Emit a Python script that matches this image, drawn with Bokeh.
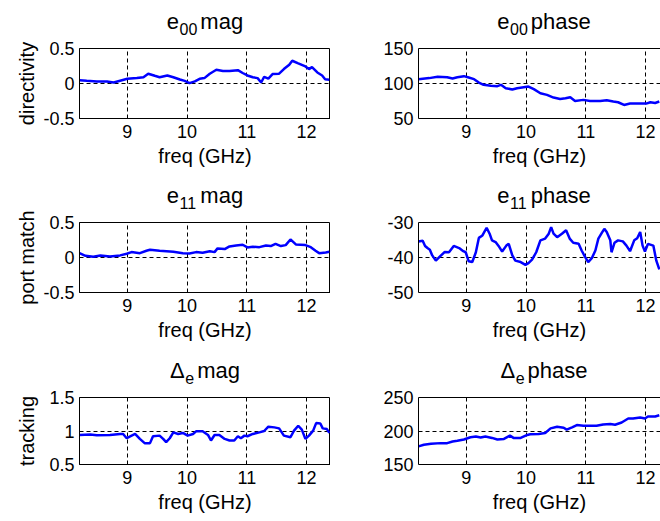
import math
from bokeh.plotting import figure
from bokeh.models import FixedTicker, Range1d, LinearAxis
from bokeh.layouts import column, row
from bokeh.embed import file_html
from bokeh.resources import INLINE
from bokeh.core.properties import value

FONT = "Liberation Sans"

# ---------------- data ----------------
freq_e00_mag = [8.20, 8.32, 8.49, 8.66, 8.77, 8.88, 9.00, 9.16, 9.27, 9.35, 9.46, 9.54, 9.67, 9.77, 9.88,
                9.96, 10.04, 10.13, 10.21, 10.29, 10.38, 10.49, 10.60, 10.71, 10.85, 10.93, 11.01, 11.10,
                11.18, 11.24, 11.29, 11.36, 11.43, 11.54, 11.62, 11.71, 11.76, 11.85, 11.98, 12.04, 12.09,
                12.18, 12.26, 12.31, 12.38]
e00_mag = [0.048, 0.04, 0.03, 0.03, 0.015, 0.04, 0.067, 0.077, 0.09, 0.14, 0.11, 0.09, 0.115, 0.09, 0.057,
           0.038, 0.005, 0.03, 0.067, 0.077, 0.14, 0.196, 0.18, 0.177, 0.19, 0.15, 0.115, 0.09,
           0.077, 0.014, 0.096, 0.07, 0.134, 0.14, 0.206, 0.268, 0.325, 0.29, 0.244, 0.206, 0.234,
           0.158, 0.115, 0.062, 0.053]

freq_e00_phase = [8.20, 8.38, 8.52, 8.68, 8.77, 8.85, 8.96, 9.04, 9.13, 9.21, 9.29, 9.41, 9.52, 9.58, 9.66,
                  9.77, 9.85, 9.96, 10.04, 10.13, 10.24, 10.35, 10.46, 10.57, 10.66, 10.74, 10.82, 10.96,
                  11.07, 11.24, 11.35, 11.46, 11.54, 11.64, 11.74, 11.90, 12.01, 12.08, 12.16, 12.23]
e00_phase = [106.2, 107.7, 109.6, 109.0, 107.2, 109.0, 110.5, 108.6, 106.2, 101.4, 98.1, 96.7, 96.2, 98.1, 93.3,
             91.4, 93.3, 94.7, 95.7, 91.9, 86.1, 83.7, 79.9, 78.0, 78.9, 80.4, 75.1, 76.6,
             75.1, 75.1, 76.1, 74.2, 73.2, 69.4, 71.3, 71.3, 71.3, 73.2, 72.2, 74.2]

freq_e11_mag = [8.20, 8.30, 8.43, 8.55, 8.71, 8.88, 8.99, 9.07, 9.21, 9.32, 9.38, 9.54, 9.77, 9.93, 10.04,
                10.15, 10.26, 10.38, 10.46, 10.51, 10.63, 10.71, 10.82, 10.93, 11.01, 11.10, 11.21, 11.32,
                11.40, 11.48, 11.57, 11.65, 11.73, 11.82, 11.98, 12.07, 12.15, 12.21, 12.32, 12.38]
e11_mag = [0.062, 0.024, 0.01, 0.03, 0.014, 0.03, 0.053, 0.077, 0.062, 0.096, 0.11, 0.096, 0.081, 0.062, 0.057,
           0.077, 0.067, 0.09, 0.077, 0.13, 0.12, 0.158, 0.172, 0.182, 0.144, 0.153, 0.148, 0.172,
           0.163, 0.196, 0.163, 0.177, 0.258, 0.187, 0.177, 0.148, 0.096, 0.062, 0.072, 0.081]

freq_e11_phase = [8.20, 8.27, 8.31, 8.35, 8.39, 8.43, 8.49, 8.56, 8.64, 8.71, 8.79, 8.88, 8.95, 8.99, 9.04,
                  9.10, 9.16, 9.21, 9.27, 9.34, 9.39, 9.43, 9.49, 9.54, 9.60, 9.67, 9.71, 9.77, 9.82, 9.91,
                  9.99, 10.04, 10.10, 10.17, 10.24, 10.32, 10.38, 10.42, 10.46, 10.52, 10.60, 10.67, 10.73,
                  10.79, 10.88, 10.93, 10.99, 11.04, 11.10, 11.16, 11.21, 11.27, 11.31, 11.35, 11.41, 11.43,
                  11.48, 11.54, 11.62, 11.68, 11.74, 11.81, 11.86, 11.91, 11.95, 11.99, 12.04, 12.13, 12.18, 12.23]
e11_phase = [-35.4, -35.2, -36.7, -37.3, -37.8, -39.4, -40.9, -39.7, -38.4, -38.5, -36.7, -37.3, -38.2, -38.5, -41.1,
             -41.3, -38.5, -34.4, -33.7, -31.5, -33.2, -35.1, -35.6, -36.7, -38.3, -36.6, -36.1, -39.4, -40.9, -41.3,
             -42.1, -41.6, -40.6, -38.5, -35.1, -34.6, -33.2, -31.3, -33.2, -34.2, -33.2, -32.2, -34.6,
             -35.8, -36.1, -38.0, -39.9, -41.3, -40.2, -38.0, -34.6, -32.9, -31.8, -32.7, -35.1, -38.5,
             -35.8, -35.1, -35.4, -36.6, -38.2, -35.1, -34.5, -32.7, -36.6, -38.3, -36.1, -36.6, -40.9, -43.4]

freq_de_mag = [8.20, 8.38, 8.49, 8.71, 8.88, 8.93, 8.99, 9.04, 9.13, 9.21, 9.29, 9.38, 9.43, 9.54, 9.60,
               9.65, 9.71, 9.77, 9.85, 9.93, 10.01, 10.10, 10.15, 10.26, 10.35, 10.40, 10.46, 10.54, 10.63,
               10.71, 10.79, 10.85, 10.90, 10.96, 11.01, 11.10, 11.21, 11.29, 11.36, 11.46, 11.54, 11.62,
               11.73, 11.79, 11.86, 11.92, 11.98, 12.04, 12.11, 12.16, 12.23, 12.27, 12.34, 12.38]
de_mag = [0.941, 0.946, 0.936, 0.941, 0.956, 0.956, 0.892, 0.917, 0.956, 0.882, 0.819, 0.819, 0.922, 0.931, 0.882,
          0.833, 0.892, 0.98, 0.956, 0.971, 0.931, 0.956, 0.995, 0.995, 0.941, 0.858, 0.941, 0.941, 0.882,
          0.858, 0.858, 0.922, 0.892, 0.931, 0.922, 0.956, 0.98, 1.0, 1.064, 1.054, 1.039, 0.931,
          0.907, 1.005, 1.078, 1.02, 0.882, 0.931, 1.005, 1.118, 1.113, 1.039, 1.029, 0.971]

freq_de_phase = [8.20, 8.29, 8.41, 8.57, 8.68, 8.77, 8.85, 8.96, 9.07, 9.16, 9.24, 9.32, 9.43, 9.52, 9.63,
                 9.73, 9.79, 9.91, 10.02, 10.07, 10.21, 10.32, 10.41, 10.52, 10.63, 10.68, 10.77, 10.85,
                 10.96, 11.07, 11.18, 11.29, 11.41, 11.49, 11.60, 11.71, 11.79, 11.91, 11.99, 12.04, 12.16, 12.23]
de_phase = [177.0, 179.4, 180.9, 181.9, 181.9, 184.3, 185.3, 187.3, 190.7, 191.7, 190.2, 191.7, 189.7, 187.3, 188.2,
            193.1, 189.7, 189.7, 194.1, 195.1, 195.6, 197.1, 203.9, 206.4, 204.9, 202.0, 205.4, 208.8,
            207.8, 207.8, 207.8, 209.8, 210.3, 209.3, 212.7, 218.6, 218.6, 220.1, 218.6, 221.6, 221.6, 223.5]

x_ticks = [9, 10, 11, 12]
mag_ticks = [-0.5, 0, 0.5]
mag_tick_labels = ["-0.5", "0", "0.5"]
e00_phase_ticks = [50, 100, 150]
e00_phase_tick_labels = ["50", "100", "150"]
e11_phase_ticks = [-50, -40, -30]
e11_phase_tick_labels = ["-50", "-40", "-30"]
de_mag_ticks = [0.5, 1, 1.5]
de_mag_tick_labels = ["0.5", "1", "1.5"]
de_phase_ticks = [150, 200, 250]
de_phase_tick_labels = ["150", "200", "250"]

x_label = "freq (GHz)"
row_labels = ["directivity", "port match", "tracking"]

STRIP = 38      # height of the title strip above each plot
LABEL_W = 40    # width of the strip that holds the row label (left column)


def blank_fig(w, h, x_range, y_range, left, right):
    f = figure(width=w, height=h, x_range=x_range, y_range=y_range, title=None,
               output_backend="svg", toolbar_location=None,
               min_border_left=left, min_border_right=right,
               min_border_top=0, min_border_bottom=0,
               background_fill_color="white", border_fill_color="white")
    f.axis.visible = False
    f.grid.visible = False
    f.outline_line_color = None
    return f


def title_strip(left_col, baseline, title_parts):
    """A small axis-less figure that holds a title with a subscript."""
    h = STRIP
    w = 330 - LABEL_W if left_col else 330
    x_end = 12.4 if left_col else 12.25
    t = blank_fig(w, h, Range1d(8.2, x_end), Range1d(0, h), 79 - LABEL_W if left_col else 88, 0)
    total = sum(wd + gap for _, _, wd, _, gap in title_parts)
    off = -total / 2.0
    for text, size, wd, drop, gap in title_parts:
        off += gap
        t.text(x=[10.3], y=[h - baseline - drop], text=[text], x_offset=off,
               text_font=value(FONT), text_font_size=value(size), text_color="black",
               text_align="left", text_baseline="alphabetic")
        off += wd
    return t


def label_strip(h, text, center_from_top):
    """Row label, rotated, in a narrow axis-less figure."""
    f = blank_fig(LABEL_W, h, Range1d(0, LABEL_W), Range1d(0, h), 0, 0)
    f.text(x=[26], y=[h - center_from_top], text=[text], angle=math.pi / 2,
           text_font=value(FONT), text_font_size=value("20px"), text_color="black",
           text_align="center", text_baseline="middle")
    return f


def make_plot(xs, ys, yticks, ylabels, left_col, h, top, frame_h):
    bottom = h - top - frame_h
    x_end = 12.4 if left_col else 12.25
    w = 330 - LABEL_W if left_col else 330
    yr = (yticks[0], yticks[-1])
    p = figure(width=w, height=h, x_range=Range1d(8.2, x_end), y_range=Range1d(*yr), title=None,
               output_backend="svg", toolbar_location=None,
               min_border_left=79 - LABEL_W if left_col else 88, min_border_right=0,
               min_border_top=top, min_border_bottom=bottom,
               background_fill_color="white", border_fill_color="white")
    for ax in (p.xaxis[0], p.yaxis[0]):
        ax.axis_line_color = "black"
        ax.axis_line_width = 1
        ax.major_tick_in = 0
        ax.major_tick_out = 0
        ax.minor_tick_line_color = None
        ax.major_label_text_font = FONT
        ax.major_label_text_font_size = "18px"
        ax.major_label_text_color = "black"
        ax.axis_label_text_font = FONT
        ax.axis_label_text_font_size = "20px"
        ax.axis_label_text_font_style = "normal"
        ax.axis_label_text_color = "black"
    p.xaxis.ticker = FixedTicker(ticks=x_ticks)
    p.xaxis.major_label_standoff = 6
    p.xaxis.axis_label = x_label
    p.xaxis.axis_label_standoff = 4
    p.yaxis.ticker = FixedTicker(ticks=yticks)
    p.yaxis.major_label_overrides = {t: l for t, l in zip(yticks, ylabels)}
    p.yaxis.major_label_standoff = 5
    p.xgrid.ticker = FixedTicker(ticks=x_ticks)
    p.ygrid.ticker = FixedTicker(ticks=[yticks[1]])
    for g in (p.xgrid[0], p.ygrid[0]):
        g.grid_line_color = "black"
        g.grid_line_dash = "4 3"
        g.grid_line_width = 1
    if left_col:
        p.outline_line_color = "black"
        p.outline_line_width = 1
        p.outline_line_alpha = 1
    else:
        p.outline_line_color = None
        top_ax = LinearAxis(ticker=FixedTicker(ticks=[]), axis_line_color="black",
                            major_tick_in=0, major_tick_out=0, minor_tick_line_color=None)
        p.add_layout(top_ax, "above")
    p.line(xs, ys, line_color="#0000ff", line_width=2.5)
    return p


def parts(main, sub, rest):
    M, S = 22, 16
    wmain = {"e": 0.556 * M, "Δ": 0.668 * M}[main]
    wsub = 0.556 * S * len(sub)
    wrest = {"mag": 1.945 * M, "phase": 2.724 * M}[rest]
    return [(main, f"{M}px", wmain, 0, 0), (sub, f"{S}px", wsub, 7, 0.5), (rest, f"{M}px", wrest, 0, 3)]


def cell(xs, ys, yticks, ylabels, ylabel, left_col, frame_top, h, frame_h, tparts, baseline):
    t = title_strip(left_col, baseline, tparts)
    p = make_plot(xs, ys, yticks, ylabels, left_col, h - STRIP, frame_top - STRIP, frame_h)
    body = column(t, p)
    if left_col:
        return row(label_strip(h, ylabel, frame_top + frame_h / 2.0), body)
    return body


c1 = cell(freq_e00_mag, e00_mag, mag_ticks, mag_tick_labels, row_labels[0], True, 48, 174, 70,
          parts("e", "00", "mag"), 21)
c2 = cell(freq_e00_phase, e00_phase, e00_phase_ticks, e00_phase_tick_labels, None, False, 48, 174, 70,
          parts("e", "00", "phase"), 21)
c3 = cell(freq_e11_mag, e11_mag, mag_ticks, mag_tick_labels, row_labels[1], True, 48, 174, 70,
          parts("e", "11", "mag"), 21)
c4 = cell(freq_e11_phase, e11_phase, e11_phase_ticks, e11_phase_tick_labels, None, False, 48, 174, 70,
          parts("e", "11", "phase"), 21)
c5 = cell(freq_de_mag, de_mag, de_mag_ticks, de_mag_tick_labels, row_labels[2], True, 49, 173, 67,
          parts("Δ", "e", "mag"), 22)
c6 = cell(freq_de_phase, de_phase, de_phase_ticks, de_phase_tick_labels, None, False, 49, 173, 67,
          parts("Δ", "e", "phase"), 22)

layout = column(row(c1, c2), row(c3, c4), row(c5, c6))
open("out.html", "w").write(file_html(layout, INLINE))
